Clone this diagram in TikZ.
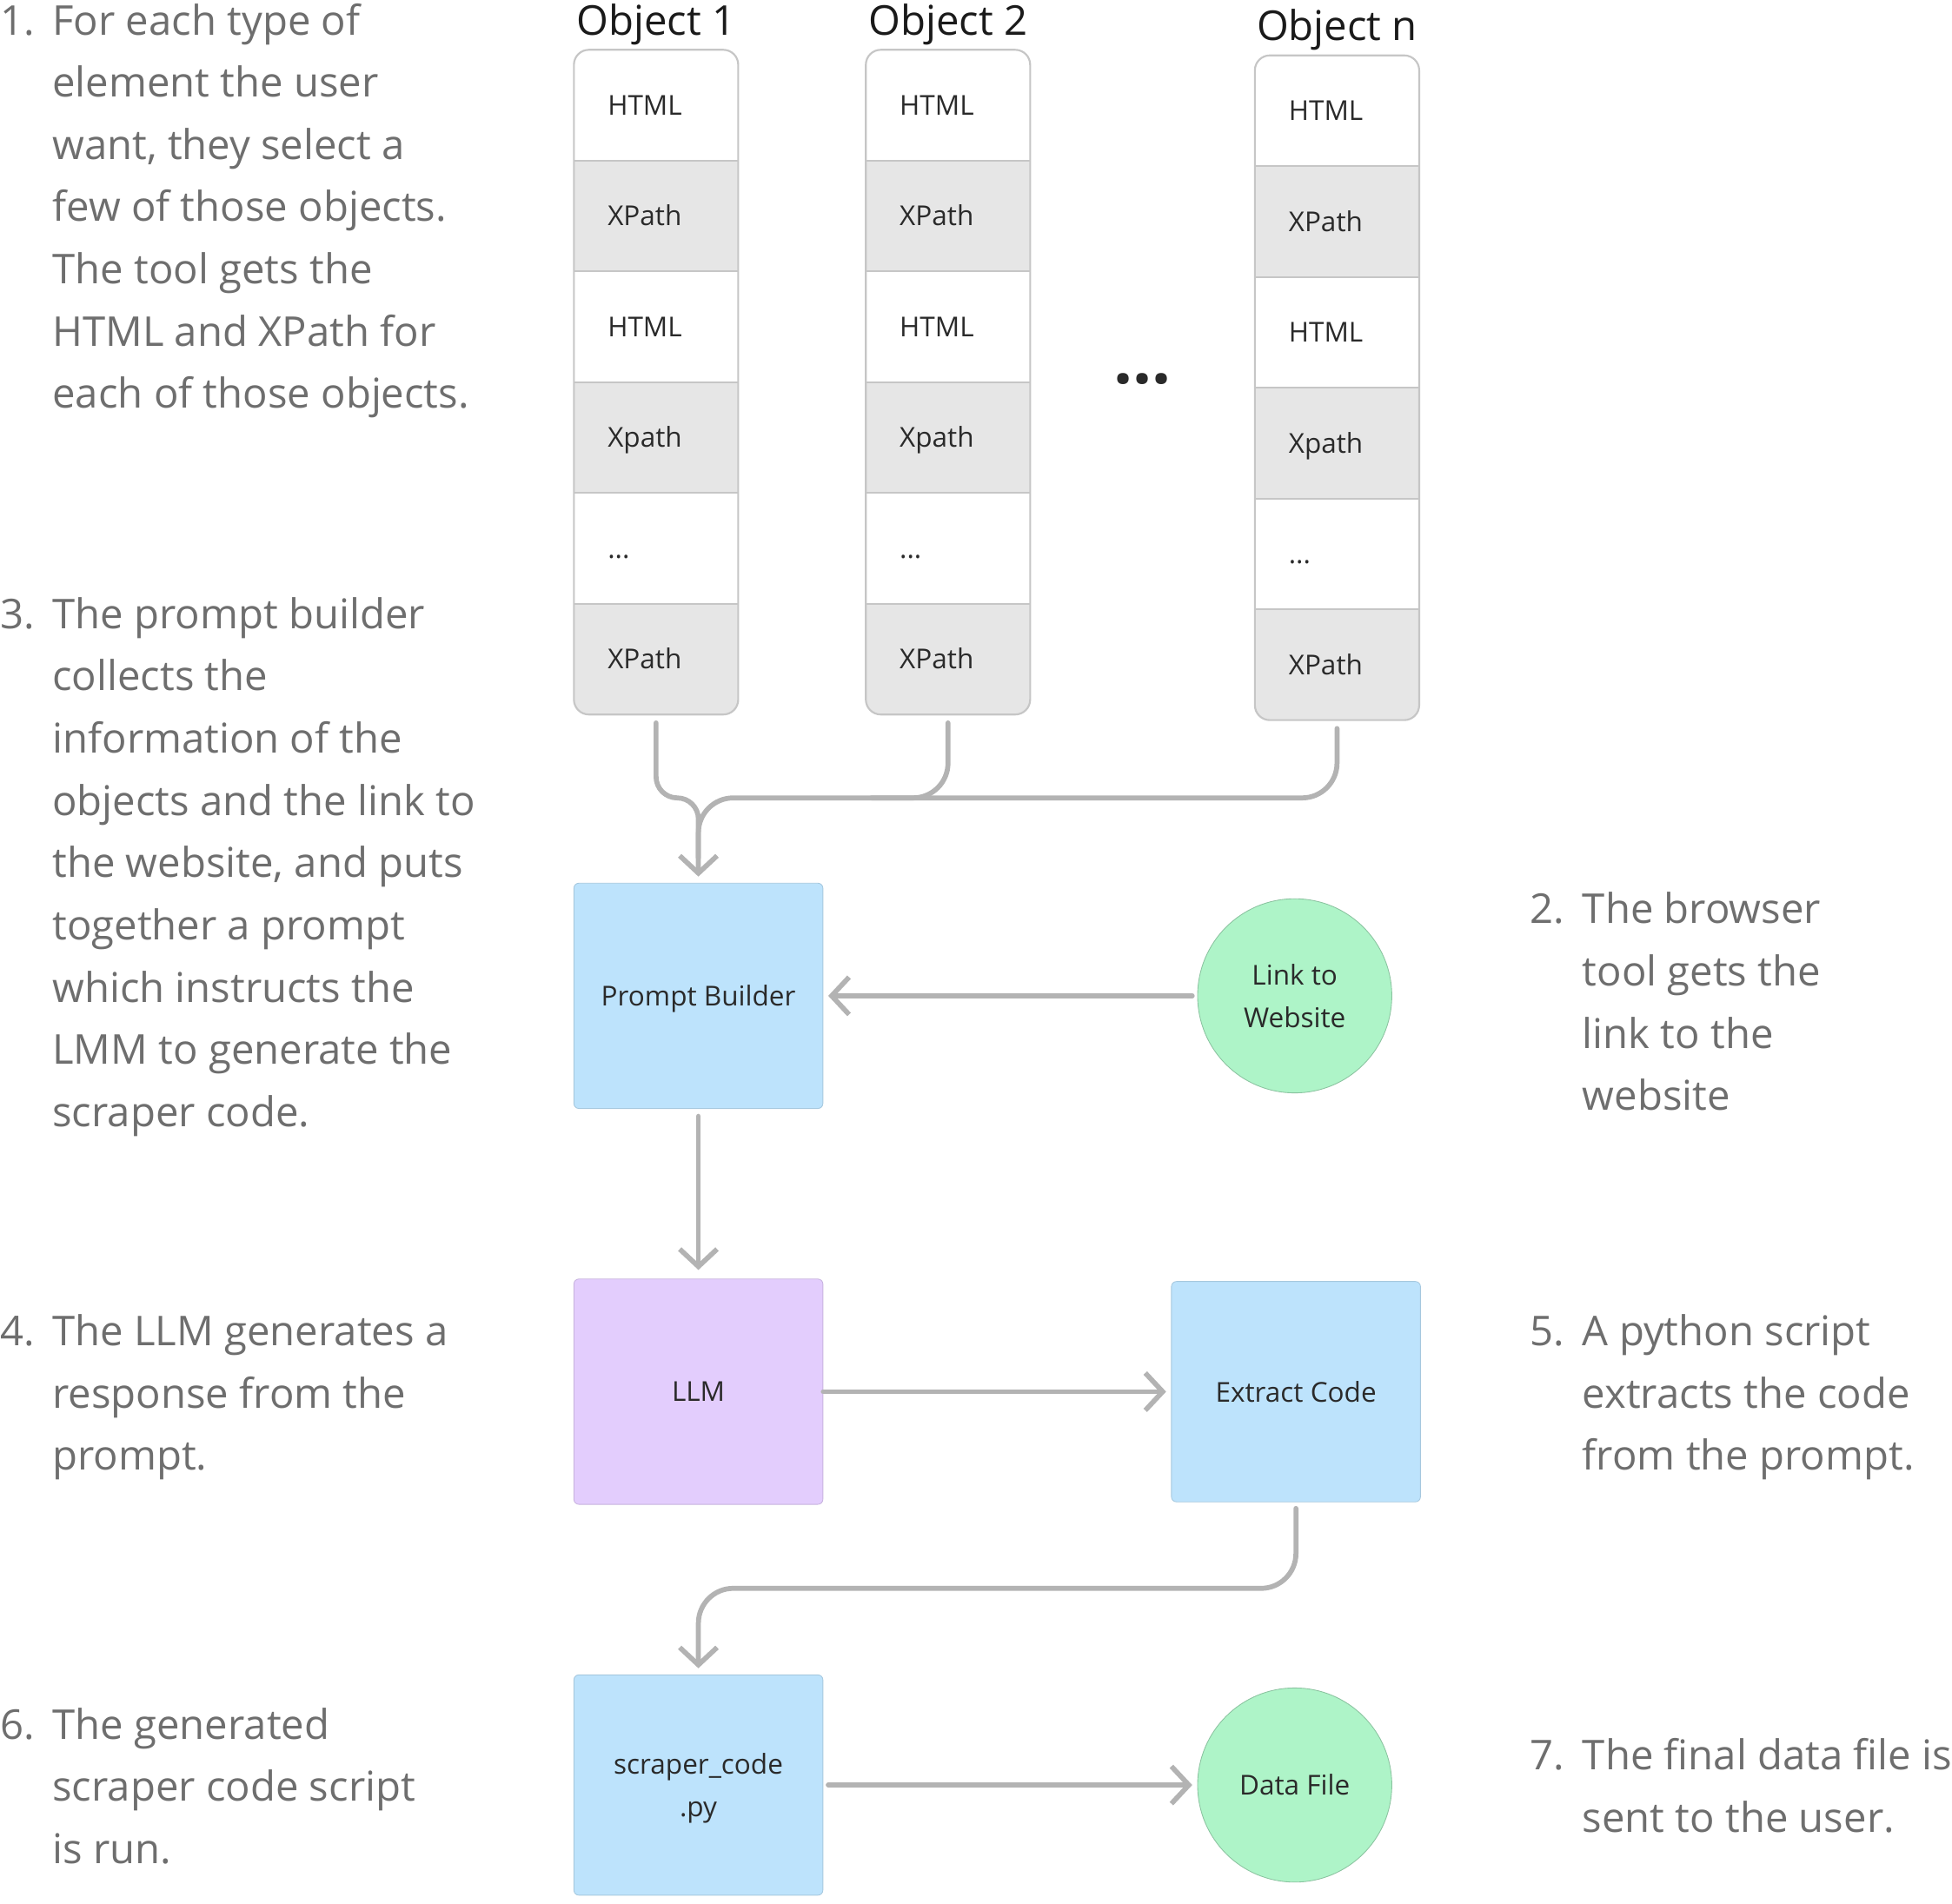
\documentclass[tikz,border=0pt]{standalone}
\usepackage{fontspec}
\setmainfont{Open Sans}
\usetikzlibrary{arrows.meta,calc}

\definecolor{linegray}{HTML}{B3B3B3}
\definecolor{notegray}{HTML}{6E6E6E}
\definecolor{cellgray}{HTML}{E6E6E6}
\definecolor{cellline}{HTML}{C6C6C6}
\definecolor{boxblue}{HTML}{BDE3FC}
\definecolor{boxpurple}{HTML}{E3CDFD}
\definecolor{boxgreen}{HTML}{AEF4C8}
\definecolor{inktext}{HTML}{2A2A2A}
\definecolor{titleink}{HTML}{1A1A1A}

\tikzset{
  notetext/.style={font=\fontsize{33}{50}\selectfont, text=notegray, inner sep=0pt, anchor=base west},
  celltext/.style={font=\fontsize{22}{30}\selectfont, text=inktext, inner sep=0pt, anchor=base west},
  coltitle/.style={font=\fontsize{33}{38}\selectfont, text=titleink, inner sep=0pt, anchor=base},
  colframe/.style={draw=cellline, line width=1.5pt, rounded corners=12pt, minimum width=132pt, minimum height=534pt, inner sep=0pt},
  stagebox/.style={minimum width=200pt, inner sep=0pt, rounded corners=4pt, line width=0.6pt, text depth=0pt,
    font=\fontsize{22}{34}\selectfont, text=inktext, align=center},
  bluebox/.style={stagebox, fill=boxblue, draw=boxblue!88!black},
  purplebox/.style={stagebox, fill=boxpurple, draw=boxpurple!88!black},
  greendisc/.style={circle, minimum size=156pt, inner sep=0pt, fill=boxgreen, draw=boxgreen!80!black, line width=0.6pt,
    font=\fontsize{22}{34}\selectfont, text=inktext, align=center},
  conn/.style={draw=linegray, line width=4pt, line cap=round, line join=round},
  arr/.style={conn, -{Straight Barb[length=14pt, width=30pt]}}
}

% one object column: #1 name, #2 left x, #3 top y, #4 title
\newcommand{\objcolumn}[4]{%
  \begin{scope}
    \clip[rounded corners=12pt] (#2,#3) rectangle ++(132,534);
    \fill[white] (#2,#3) rectangle ++(132,534);
    \fill[cellgray] (#2,#3+89) rectangle ++(132,89);
    \fill[cellgray] (#2,#3+267) rectangle ++(132,89);
    \fill[cellgray] (#2,#3+445) rectangle ++(132,89);
  \end{scope}
  \foreach \r in {1,2,3,4,5} \draw[cellline, line width=1.5pt] (#2,#3+\r*89) -- ++(132,0);
  \node[colframe] (#1) at (#2+66,#3+267) {};
  \node[coltitle] (#1-title) at (#2+66,#3-12) {#4};
  \node[celltext] (#1-r1) at (#2+27,#3+52.5) {HTML};
  \node[celltext] (#1-r2) at (#2+27,#3+141.5) {XPath};
  \node[celltext] (#1-r3) at (#2+27,#3+230.5) {HTML};
  \node[celltext] (#1-r4) at (#2+27,#3+319.5) {Xpath};
  \node[celltext] (#1-r5) at (#2+27,#3+408.5) {...};
  \node[celltext] (#1-r6) at (#2+27,#3+497.5) {XPath};
}

% numbered note: #1 name, #2 number, #3 x, #4 first baseline, #5 lines
\newcommand{\stepnote}[5]{%
  \node[notetext] (#1-num) at (#3,#4) {#2};
  \foreach \ln [count=\i from 0] in {#5} {
    \node[notetext] (#1-\i) at (#3+42,#4+50*\i) {\ln};
  }
}

\begin{document}
\begin{tikzpicture}[x=1pt,y=-1pt]
\useasboundingbox (0,0) rectangle (1568,1529);

% object columns
\objcolumn{colA}{461}{40}{Object 1}
\objcolumn{colB}{695.5}{40}{Object 2}
\objcolumn{colN}{1008}{44.5}{Object n}
\node[font=\fontsize{54}{54}\bfseries\selectfont, text=inktext, inner sep=0pt, anchor=base] (more) at (918,308) {...};

% stages
\node[bluebox, minimum height=181pt] (pb) at (561,800) {Prompt Builder};
\node[greendisc] (link) at (1040,800) {Link to\\Website};
\node[purplebox, minimum height=181pt] (llm) at (561,1118) {LLM};
\node[bluebox, minimum height=177pt] (ec) at (1041,1118) {Extract Code};
\node[bluebox, minimum height=177pt] (sc) at (561,1434) {scraper\_code\\.py};
\node[greendisc] (df) at (1040,1434) {Data File};

% merging connectors from the object columns
\coordinate (join) at (561,641);
\coordinate (joinB) at (700,641);
\draw[conn, rounded corners=17pt, shorten <=6pt] (colA.south) |- (join) -- ($(pb.north)+(0,-20)$);
\draw[conn, rounded corners=28pt, shorten <=6pt] (colB.south) |- (joinB);
\draw[arr, rounded corners=28pt, shorten <=6pt, shorten >=5pt] (colN.south) |- (join) -- (pb.north);

% flow connectors
\draw[arr, shorten <=4pt, shorten >=4pt] (link.west) -- (pb.east);
\draw[arr, shorten <=6pt, shorten >=7pt] (pb.south) -- (llm.north);
\draw[arr, shorten >=4pt] (llm.east) -- (ec.west);
\coordinate (bend) at (561,1276);
\draw[arr, rounded corners=28pt, shorten <=5pt, shorten >=5pt] (ec.south) |- (bend) -- (sc.north);
\draw[arr, shorten <=4pt, shorten >=4pt] (sc.east) -- (df.west);

% notes
\stepnote{s1}{1.}{0}{28}{For each type of, element the user, {want, they select a}, few of those objects., The tool gets the, HTML and XPath for, each of those objects.}
\stepnote{s3}{3.}{0}{505}{The prompt builder, collects the, information of the, objects and the link to, {the website, and puts}, together a prompt, which instructs the, LMM to generate the, scraper code.}
\stepnote{s4}{4.}{0}{1081}{The LLM generates a, response from the, prompt.}
\stepnote{s6}{6.}{0}{1397}{The generated, scraper code script, is run.}
\stepnote{s2}{2.}{1229}{742}{The browser, tool gets the, link to the, website}
\stepnote{s5}{5.}{1229}{1081}{A python script, extracts the code, from the prompt.}
\stepnote{s7}{7.}{1229}{1422}{The final data file is, sent to the user.}
\end{tikzpicture}
\end{document}
